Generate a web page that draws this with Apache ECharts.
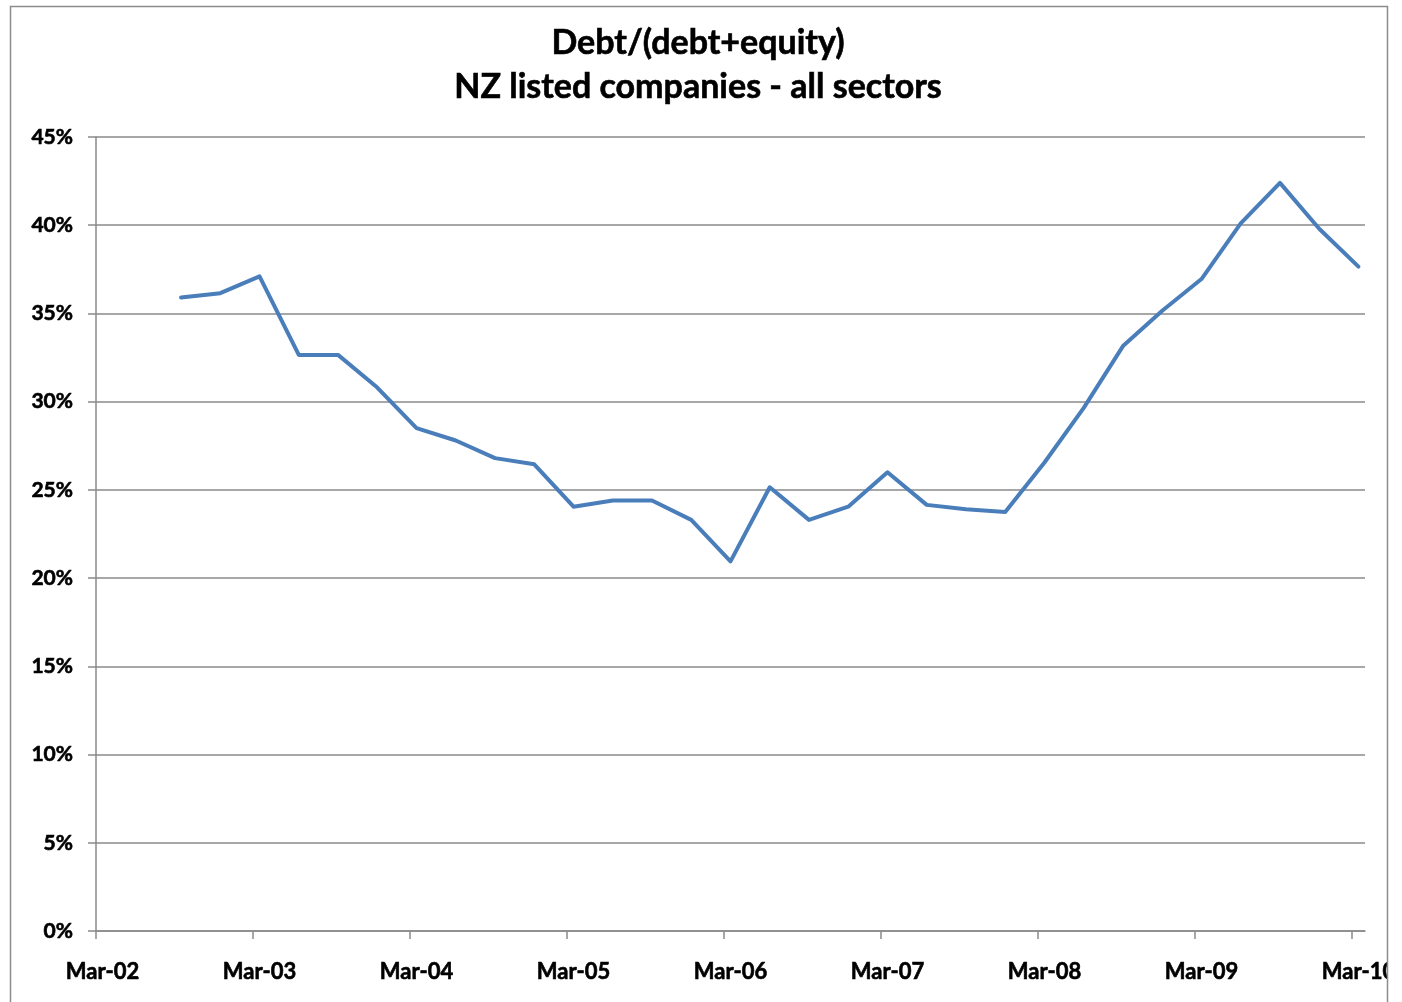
<!DOCTYPE html>
<html>
<head>
<meta charset="utf-8">
<style>
  html, body { margin: 0; padding: 0; background: #ffffff; }
  #chart { width: 1402px; height: 1002px; }
</style>
<script src="https://cdn.jsdelivr.net/npm/echarts@6/dist/echarts.min.js"></script>
</head>
<body>
<div id="chart"></div>
<script>
// Quarterly debt / (debt + equity) ratio, NZ listed companies, all sectors (%)
const quarters = [
  'Sep-02', 'Dec-02',
  'Mar-03', 'Jun-03', 'Sep-03', 'Dec-03',
  'Mar-04', 'Jun-04', 'Sep-04', 'Dec-04',
  'Mar-05', 'Jun-05', 'Sep-05', 'Dec-05',
  'Mar-06', 'Jun-06', 'Sep-06', 'Dec-06',
  'Mar-07', 'Jun-07', 'Sep-07', 'Dec-07',
  'Mar-08', 'Jun-08', 'Sep-08', 'Dec-08',
  'Mar-09', 'Jun-09', 'Sep-09', 'Dec-09',
  'Mar-10'
];
const debtRatio = [
  35.9, 36.15,
  37.1, 32.65, 32.65, 30.8,
  28.5, 27.8, 26.8, 26.45,
  24.05, 24.4, 24.4, 23.3,
  20.95, 25.15, 23.3, 24.05,
  26.0, 24.15, 23.9, 23.75,
  26.55, 29.65, 33.15, 35.15,
  36.95, 40.1, 42.4, 39.8,
  37.65
];

// Monthly date axis, Mar-02 through Mar-10; labels shown every 12 months
const monthNames = ['Jan','Feb','Mar','Apr','May','Jun','Jul','Aug','Sep','Oct','Nov','Dec'];
const axisStart = { year: 2002, month: 2 };
const axisEnd = { year: 2010, month: 2 };
const months = [];
for (let y = axisStart.year, m = axisStart.month; y < axisEnd.year || (y === axisEnd.year && m <= axisEnd.month); ) {
  months.push(monthNames[m] + '-' + String(y % 100).padStart(2, '0'));
  m++;
  if (m > 11) { m = 0; y++; }
}
// Year boundaries (month offsets) where the tick marks sit
const yearTicks = [0, 12, 24, 36, 48, 60, 72, 84, 96];

const yTicks = { min: 0, max: 45, step: 5 };

const FONT = 'Lato, "Open Sans", sans-serif';
const GRID_COLOR = '#8a8a8a';
const FRAME = { x: 10.5, y: 6.5, right: 1387.5 };
// a thin outline of the same colour gives the text a heavier weight
const heavy = { textBorderColor: '#000000', textBorderWidth: 0.6 };

const chart = echarts.init(document.getElementById('chart'), null, { renderer: 'canvas' });

chart.setOption({
  animation: false,
  backgroundColor: '#ffffff',
  textStyle: { fontFamily: FONT },
  title: {
    text: 'Debt/(debt+equity)\nNZ listed companies - all sectors',
    left: 698,
    top: 21,
    textAlign: 'center',
    padding: 0,
    textStyle: Object.assign({
      fontFamily: FONT,
      fontSize: 34,
      fontWeight: 'bold',
      color: '#000000',
      lineHeight: 44
    }, heavy)
  },
  graphic: [{
    // the chart frame clips whatever runs past its right edge
    type: 'rect',
    silent: true,
    z: 100,
    shape: { x: FRAME.right, y: 0, width: 1402 - FRAME.right, height: 1002 },
    style: { fill: '#ffffff' }
  }, {
    type: 'rect',
    silent: true,
    z: 101,
    shape: { x: FRAME.x, y: FRAME.y, width: FRAME.right - FRAME.x, height: 1100 },
    style: { fill: null, stroke: '#8c8c8c', lineWidth: 1.5 }
  }],
  grid: { left: 96, right: 37, top: 137, bottom: 71, containLabel: false },
  xAxis: [{
    type: 'category',
    data: months,
    boundaryGap: true,
    axisLine: { show: true, lineStyle: { color: GRID_COLOR, width: 1.5 } },
    axisTick: { show: false },
    axisLabel: Object.assign({
      interval: 11,
      margin: 30,
      fontFamily: FONT,
      fontSize: 22,
      fontWeight: 'bold',
      color: '#000000'
    }, heavy),
    splitLine: { show: false }
  }, {
    type: 'value',
    position: 'bottom',
    min: 0,
    max: months.length,
    axisLine: { show: false },
    axisTick: { show: true, length: 8, customValues: yearTicks, lineStyle: { color: GRID_COLOR, width: 1.5 } },
    axisLabel: { show: false },
    splitLine: { show: false }
  }],
  yAxis: {
    type: 'value',
    min: yTicks.min,
    max: yTicks.max,
    interval: yTicks.step,
    axisLine: { show: true, lineStyle: { color: GRID_COLOR, width: 1.5 } },
    axisTick: { show: true, length: 8, lineStyle: { color: GRID_COLOR, width: 1.5 } },
    axisLabel: Object.assign({
      formatter: '{value}%',
      margin: 23,
      fontFamily: FONT,
      fontSize: 21,
      fontWeight: 'bold',
      color: '#000000'
    }, heavy),
    splitLine: { show: true, lineStyle: { color: GRID_COLOR, width: 1.5 } }
  },
  series: [{
    type: 'line',
    xAxisIndex: 0,
    data: quarters.map((q, i) => [q, debtRatio[i]]),
    showSymbol: false,
    symbol: 'none',
    connectNulls: true,
    lineStyle: { color: '#4a7ebb', width: 4, join: 'round', cap: 'round' },
    itemStyle: { color: '#4a7ebb' }
  }]
});
</script>
</body>
</html>
